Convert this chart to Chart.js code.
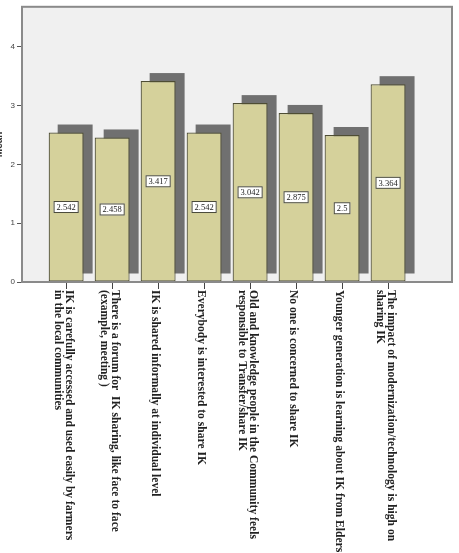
<!DOCTYPE html>
<html>
<head>
<meta charset="utf-8">
<script src="https://cdn.jsdelivr.net/npm/chart.js@4"></script>
<style>
  html, body { margin: 0; padding: 0; background: #fff; }
  #wrap { width: 459px; height: 553px; }
</style>
</head>
<body>
<div id="wrap"><canvas id="chart"></canvas></div>
<script>
var categories = [
  ["IK is carefully accessed and used easily by farmers", "in the local communities"],
  ["There is a forum for  IK sharing, like face to face", "(example, meeting )"],
  ["IK is shared informally at individual level"],
  ["Everybody is interested to share IK"],
  ["Old and knowledge people in the Community feels", "responsible to Transfer/share IK"],
  ["No one is concerned to share IK"],
  ["Younger generation is learning about IK from Elders"],
  ["The impact of modernization/technology is high on", "sharing IK"]
];
var means = [2.542, 2.458, 3.417, 2.542, 3.042, 2.875, 2.5, 3.364];
var yTicks = [0, 1, 2, 3, 4];

// grey panel behind the bars + frame around it
var framePlugin = {
  id: 'frame',
  beforeDraw: function(chart) {
    var a = chart.chartArea, ctx = chart.ctx;
    ctx.save();
    ctx.fillStyle = '#f0f0f0';
    ctx.fillRect(a.left, a.top, a.right - a.left, a.bottom - a.top);
    ctx.restore();
  },
  afterDatasetsDraw: function(chart) {
    var a = chart.chartArea, ctx = chart.ctx;
    ctx.save();
    ctx.strokeStyle = '#8a8a8a';
    ctx.lineWidth = 2;
    ctx.strokeRect(a.left, a.top, a.right - a.left, a.bottom - a.top);
    ctx.restore();
  }
};

// the dark offset "shadow" block behind every bar
var shadowPlugin = {
  id: 'shadow',
  beforeDatasetsDraw: function(chart) {
    var ctx = chart.ctx;
    var meta = chart.getDatasetMeta(0);
    ctx.save();
    ctx.fillStyle = '#707070';
    meta.data.forEach(function(bar) {
      var p = bar.getProps(['x', 'y', 'base', 'width'], true);
      ctx.fillRect(p.x - p.width / 2 + 9, p.y - 8, p.width, p.base - p.y);
    });
    ctx.restore();
  }
};

// boxed value in the middle of each bar
var valuePlugin = {
  id: 'values',
  afterDatasetsDraw: function(chart) {
    var ctx = chart.ctx;
    var meta = chart.getDatasetMeta(0);
    ctx.save();
    ctx.font = '8.5px "Liberation Serif"';
    ctx.textAlign = 'center';
    ctx.textBaseline = 'middle';
    meta.data.forEach(function(bar, i) {
      var p = bar.getProps(['x', 'y', 'base'], true);
      var cy = (p.y + p.base) / 2;
      var txt = String(means[i]);
      var w = ctx.measureText(txt).width + 6;
      ctx.fillStyle = '#ffffff';
      ctx.fillRect(p.x - w / 2, cy - 6, w, 12);
      ctx.strokeStyle = '#4a4a3a';
      ctx.lineWidth = 1;
      ctx.strokeRect(p.x - w / 2 + 0.5, cy - 5.5, w - 1, 11);
      ctx.fillStyle = '#222';
      ctx.fillText(txt, p.x, cy + 0.5);
    });
    ctx.restore();
  }
};

// category labels turned clockwise, reading downwards, plus the cut "Mean" title
var labelPlugin = {
  id: 'xlabels',
  afterDraw: function(chart) {
    var ctx = chart.ctx;
    var xs = chart.scales.x;
    var top = chart.chartArea.bottom + 8;
    var lh = 11;
    ctx.save();
    ctx.font = 'bold 11.6px "Liberation Serif"';
    ctx.fillStyle = '#222';
    ctx.textAlign = 'left';
    ctx.textBaseline = 'middle';
    categories.forEach(function(lines, i) {
      var cx = xs.getPixelForValue(i) - 3;
      ctx.save();
      ctx.translate(cx, top);
      ctx.rotate(Math.PI / 2);
      lines.forEach(function(line, k) {
        ctx.fillText(line, 0, (k - (lines.length - 1) / 2) * lh);
      });
      ctx.restore();
    });
    ctx.restore();

    var a = chart.chartArea;
    ctx.save();
    ctx.font = 'bold 10px "Liberation Sans"';
    ctx.fillStyle = '#333';
    ctx.textAlign = 'center';
    ctx.textBaseline = 'middle';
    ctx.translate(-1, (a.top + a.bottom) / 2);
    ctx.rotate(-Math.PI / 2);
    ctx.fillText('Mean', 0, 0);
    ctx.restore();
  }
};

var ctx = document.getElementById('chart').getContext('2d');
var chart = new Chart(ctx, {
  type: 'bar',
  data: {
    datasets: [{
      label: 'Mean',
      data: means.map(function(v, i) { return { x: i, y: v }; }),
      backgroundColor: '#d5d19b',
      borderColor: '#4e4d33',
      borderWidth: 1.2,
      borderSkipped: false,
      categoryPercentage: 1,
      barPercentage: 0.76
    }]
  },
  plugins: [framePlugin, shadowPlugin, valuePlugin, labelPlugin],
  options: {
    responsive: true,
    maintainAspectRatio: false,
    animation: false,
    layout: { padding: { top: 6, right: 7, left: 0, bottom: 0 } },
    plugins: {
      legend: { display: false },
      tooltip: { enabled: false }
    },
    scales: {
      x: {
        type: 'linear',
        offset: false,
        min: -0.96,
        max: 8.39,
        ticks: { display: false, stepSize: 1 },
        afterBuildTicks: function(s) {
          s.ticks = categories.map(function(c, i) { return { value: i }; });
        },
        afterFit: function(s) { s.height = 271; },
        grid: { offset: false, drawOnChartArea: false, drawTicks: true, tickLength: 7, color: '#444', lineWidth: 1 },
        border: { display: false }
      },
      y: {
        min: 0,
        max: 4.68,
        afterBuildTicks: function(s) {
          s.ticks = yTicks.map(function(v) { return { value: v }; });
        },
        afterFit: function(s) { s.width = 22; },
        ticks: {
          padding: 2,
          color: '#444',
          font: { family: 'Liberation Sans', size: 8 }
        },
        grid: { drawOnChartArea: false, drawTicks: true, tickLength: 5, color: '#555' },
        border: { display: false }
      }
    }
  }
});
</script>
</body>
</html>
